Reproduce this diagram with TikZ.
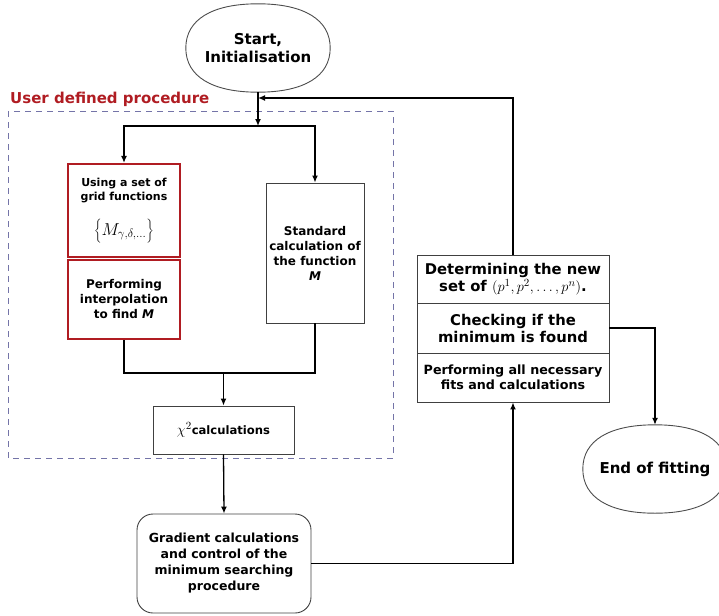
\documentclass[tikz,border=0pt]{standalone}
\usepackage[no-math]{fontspec}
\setmainfont{DejaVu Sans}
\usetikzlibrary{arrows.meta,calc}
\definecolor{ured}{HTML}{B01C22}
\definecolor{dashblue}{HTML}{7474A8}
\tikzset{
  arr/.style={-{Latex[length=7pt,width=6pt]}, line width=1.3pt},
  conn/.style={line width=1.3pt},
  plainbox/.style={draw=black!75, line width=0.9pt, rectangle, align=center, inner sep=0pt, font=\bfseries},
  redbox/.style={draw=ured, line width=2.2pt, rectangle, align=center, inner sep=0pt, font=\bfseries},
  term/.style={rectangle, minimum width=144pt, minimum height=88pt, align=center, inner sep=0pt, font=\bfseries\fontsize{15}{18}\selectfont},
  termline/.style={draw=black!70, line width=0.9pt},
}
\newcommand\termshape[1]{%
  \draw[termline] (#1.west)
    .. controls ($(#1.west)!0.64!(#1.north west)$) and ($(#1.north)!0.64!(#1.north west)$) .. (#1.north)
    .. controls ($(#1.north)!0.64!(#1.north east)$) and ($(#1.east)!0.64!(#1.north east)$) .. (#1.east)
    .. controls ($(#1.east)!0.64!(#1.south east)$) and ($(#1.south)!0.64!(#1.south east)$) .. (#1.south)
    .. controls ($(#1.south)!0.64!(#1.south west)$) and ($(#1.west)!0.64!(#1.south west)$) .. (#1.west) -- cycle;}
\begin{document}
\begin{tikzpicture}[x=1pt,y=-1pt]
\useasboundingbox (0,0) rectangle (719,615);
% dashed region
\draw[dashblue, line width=0.9pt, dash pattern=on 6pt off 5pt] (8,111) rectangle (393,458);
\node[anchor=base west, text=ured, font=\bfseries\fontsize{15}{17}\selectfont, inner sep=0pt] (title) at (10,103) {User defined procedure};
% nodes
\node[term] (start) at (258,48) {Start,\\Initialisation};
\termshape{start}
\node[redbox, minimum width=112pt, minimum height=93pt, font=\bfseries\fontsize{11}{13.5}\selectfont] (left1) at (124,210.5) {Using a set of\\grid functions\\[14pt] {\fontsize{17}{17}\selectfont$\Biggl\{M_{\gamma,\delta,\ldots}\Biggr\}$}};
\node[redbox, minimum width=112pt, minimum height=79pt, font=\bfseries\fontsize{12}{15}\selectfont] (left2) at (124,299.5) {Performing\\interpolation\\to find \textit{M}};
\node[plainbox, minimum width=98pt, minimum height=140pt, font=\bfseries\fontsize{12}{15}\selectfont] (right) at (315,253) {Standard\\calculation of\\the function\\\textit{M}};
\node[plainbox, minimum width=141pt, minimum height=48pt, font=\bfseries\fontsize{11.6}{13}\selectfont] (chi) at (223.5,430) {{\fontsize{15}{15}\selectfont$\chi^2$}calculations};
\node[plainbox, rounded corners=16pt, minimum width=174pt, minimum height=99pt, font=\bfseries\fontsize{12.5}{16}\selectfont] (grad) at (224,563.5) {Gradient calculations\\and control of the\\minimum searching\\procedure};
\node[plainbox, minimum width=192pt, minimum height=48pt, font=\bfseries\fontsize{14.8}{17}\selectfont] (s1) at (513,279) {Determining the new\\set of {\fontsize{15}{15}\selectfont$\bigl(p^1,p^2,\ldots,p^n\bigr)$}.};
\node[plainbox, minimum width=192pt, minimum height=50pt, font=\bfseries\fontsize{14.8}{17}\selectfont] (s2) at (513,328) {Checking if the\\minimum is found};
\node[plainbox, minimum width=192pt, minimum height=49pt, font=\bfseries\fontsize{12.7}{15}\selectfont] (s3) at (513,377.5) {Performing all necessary\\fits and calculations};
\node[term] (end) at (655,469) {End of fitting};
\termshape{end}
% coordinates
\coordinate (br) at (258,126);
\coordinate (fb) at (258,98);
\coordinate (jl) at (124,373);
\coordinate (jm) at (223.5,373);
% connectors
\draw[arr] (start.south) -- (br);
\draw[arr] (br) -| (left1.north);
\draw[arr] (br) -| (right.north);
\draw[conn] (left2.south) |- (jl) -| (right.south);
\draw[arr] (jm) -- (chi.north);
\draw[arr] (chi.south) -- (grad.north);
\draw[arr] (grad.east) -| (s3.south);
\draw[arr] (s1.north) |- (fb);
\draw[arr] (s2.east) -| (end.north);
\end{tikzpicture}
\end{document}
